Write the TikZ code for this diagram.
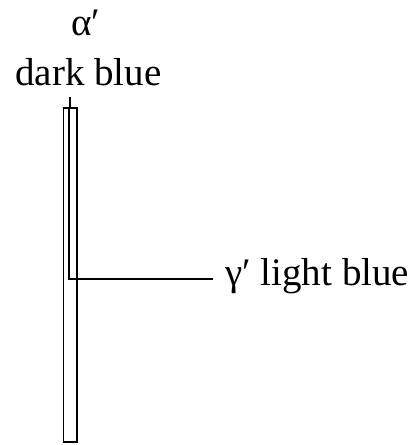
\documentclass[tikz,border=0pt]{standalone}
\usepackage{fontspec}
\setmainfont{Liberation Serif}
\begin{document}
\begin{tikzpicture}[x=1pt,y=-1pt,
  lbl/.style={inner sep=0pt,font=\fontsize{39}{45}\selectfont},
  thin line/.style={line width=1.1pt},
  barbox/.style={draw,line width=1.2pt,rectangle,inner sep=0pt,minimum width=13.5pt,minimum height=334pt}]
\useasboundingbox (0,0) rectangle (419,445);
\node[barbox] (bar) at (70.25,275) {};
\node[lbl,anchor=base] (alpha) at (86,35) {α′};
\node[lbl,anchor=base] (dark) at (88.5,85) {dark blue};
\node[lbl,anchor=base west,inner xsep=12pt] (light) at (213,285) {γ′ light blue};
\coordinate (ticktop) at (70,97);
\coordinate (innertop) at (69,108);
\coordinate (corner) at (69,279);
\draw[thin line] (ticktop) -- (ticktop |- bar.north);
\draw[thin line] (innertop) -- (corner) -- (corner -| light.west);
\end{tikzpicture}
\end{document}
